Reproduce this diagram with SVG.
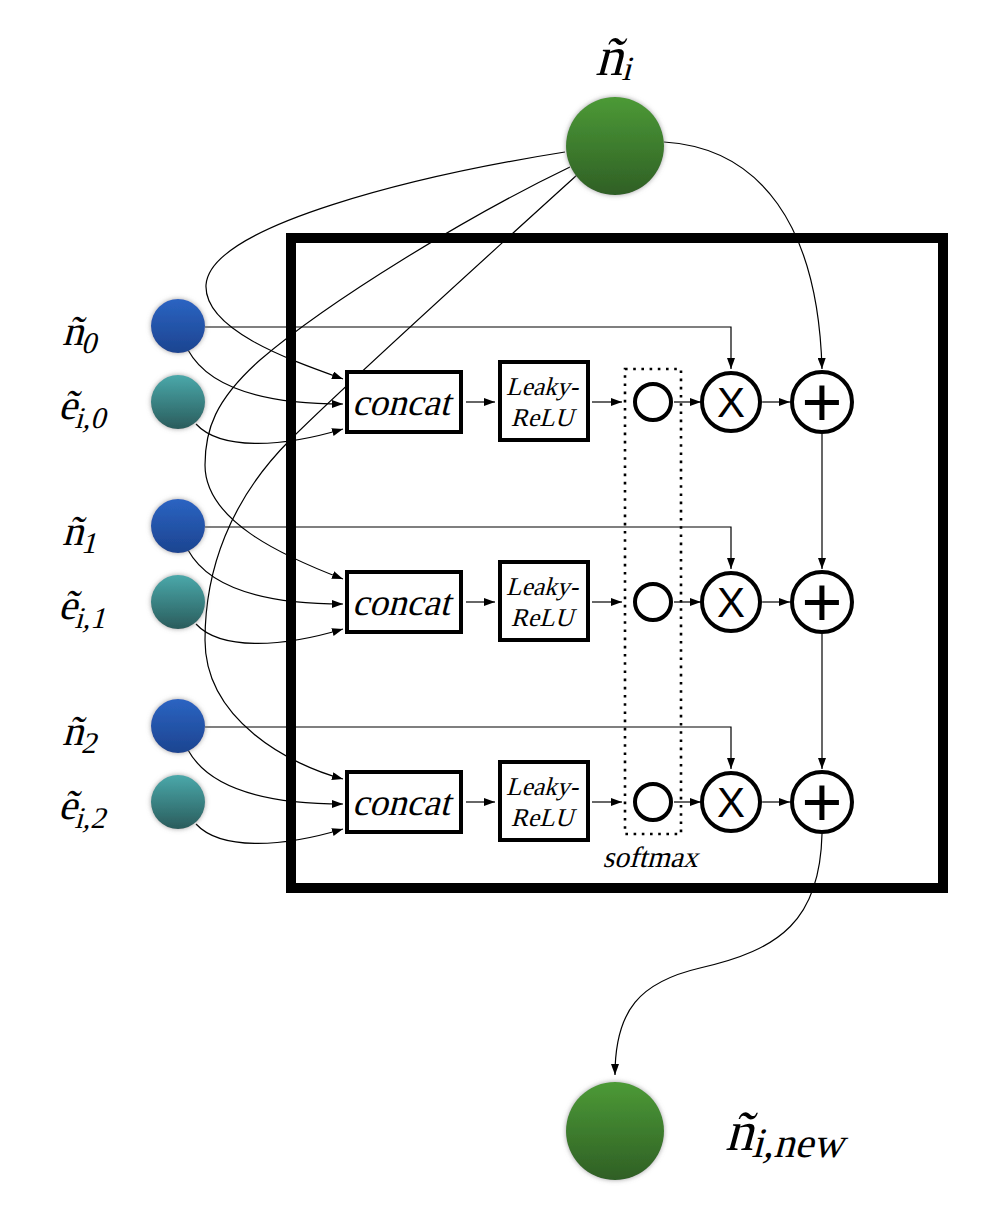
<svg xmlns="http://www.w3.org/2000/svg" width="1002" height="1222" viewBox="0 0 1002 1222">
<style>
.c{fill:none;stroke:#000;stroke-width:1.2}
.a{marker-end:url(#ah)}
.box{fill:#fff;stroke:#000;stroke-width:4}
.op{fill:#fff;stroke:#000;stroke-width:4}
</style>
<defs>
<marker id="ah" markerUnits="userSpaceOnUse" markerWidth="11" markerHeight="8" refX="11" refY="4" orient="auto">
<path d="M0,0 L11,4 L0,8 Z" fill="#000"/>
</marker>
<linearGradient id="gGreen" x1="0" y1="0" x2="0" y2="1">
<stop offset="0" stop-color="#4c9a36"/><stop offset="1" stop-color="#2f5f25"/>
</linearGradient>
<linearGradient id="gBlue" x1="0" y1="0" x2="0" y2="1">
<stop offset="0" stop-color="#2b64c2"/><stop offset="1" stop-color="#1c4490"/>
</linearGradient>
<linearGradient id="gTeal" x1="0" y1="0" x2="0" y2="1">
<stop offset="0" stop-color="#4aa8aa"/><stop offset="1" stop-color="#2a5c5c"/>
</linearGradient>
<filter id="glow" x="-30%" y="-30%" width="160%" height="160%">
<feGaussianBlur in="SourceAlpha" stdDeviation="2.5" result="b"/>
<feFlood flood-color="#888" flood-opacity="0.8"/>
<feComposite in2="b" operator="in" result="s"/>
<feMerge><feMergeNode in="s"/><feMergeNode in="SourceGraphic"/></feMerge>
</filter>
</defs>
<rect width="1002" height="1222" fill="#fff"/>

<g id="frame">
<rect x="291" y="238" width="652" height="650" fill="none" stroke="#000" stroke-width="10"/>
</g>

<g id="connectors">
<path class="c a" d="M565,152 C420,175 210,225 206,285 C204,330 290,360 343,379"/>
<path class="c a" d="M570,167 C470,215 330,300 260,360 C215,400 205,430 205,465 C205,520 280,555 343,579"/>
<path class="c a" d="M577,175 C450,290 330,400 290,440 C230,500 205,570 205,640 C205,720 290,765 343,779"/>

<path class="c a" d="M188,350 C210,390 270,404 343,404"/>
<path class="c a" d="M196,424 C220,450 280,448 343,429"/>
<path class="c a" d="M188,550 C210,590 270,604 343,604"/>
<path class="c a" d="M196,624 C220,650 280,648 343,629"/>
<path class="c a" d="M188,750 C210,790 270,804 343,804"/>
<path class="c a" d="M196,824 C220,850 280,848 343,829"/>

<path class="c a" d="M205,327 H731 V369"/>
<path class="c a" d="M205,527 H731 V569"/>
<path class="c a" d="M205,727 H731 V769"/>

<path class="c a" d="M466,402 H495"/>
<path class="c a" d="M592,402 H622"/>
<path class="c a" d="M674,402 H701"/>
<path class="c a" d="M762,402 H790"/>
<path class="c a" d="M466,602 H495"/>
<path class="c a" d="M592,602 H622"/>
<path class="c a" d="M674,602 H701"/>
<path class="c a" d="M762,602 H790"/>
<path class="c a" d="M466,802 H495"/>
<path class="c a" d="M592,802 H622"/>
<path class="c a" d="M674,802 H701"/>
<path class="c a" d="M762,802 H790"/>

<path class="c a" d="M664,142 C760,148 818,225 822,369"/>
<path class="c a" d="M822,434 V569"/>
<path class="c a" d="M822,634 V769"/>
<path class="c a" d="M822,834 C820,920 780,950 700,968 C640,982 615,1010 615,1075"/>
</g>

<g id="softmax">
<rect x="625" y="369" width="56" height="465" fill="none" stroke="#000" stroke-width="2.6" stroke-dasharray="2.6 5.6"/>
<text transform="translate(650,867) skewX(-15)" font-size="29.5" text-anchor="middle" font-family="Liberation Serif">softmax</text>
</g>

<g id="n_i">
<circle cx="615" cy="146" r="49" fill="url(#gGreen)" filter="url(#glow)"/>
<text transform="translate(595,75) skewX(-15)" font-size="55" font-family="Liberation Serif">ñ<tspan font-size="34" dy="5">i</tspan></text>
</g>
<g id="n_i_new">
<circle cx="615" cy="1131" r="49" fill="url(#gGreen)" filter="url(#glow)"/>
<text transform="translate(725,1150) skewX(-15)" font-size="56" font-family="Liberation Serif">ñ<tspan font-size="42" dy="7">i,new</tspan></text>
</g>

<g id="n_0">
<circle cx="178" cy="326" r="27" fill="url(#gBlue)" filter="url(#glow)"/>
<text transform="translate(62,345) skewX(-15)" font-size="42" font-family="Liberation Serif">ñ<tspan font-size="30" dy="8">0</tspan></text>
</g>
<g id="e_i0">
<circle cx="178" cy="402" r="27" fill="url(#gTeal)" filter="url(#glow)"/>
<text transform="translate(58,419) skewX(-15)" font-size="42" font-family="Liberation Serif">ẽ<tspan font-size="30" dy="9">i,0</tspan></text>
</g>
<g id="n_1">
<circle cx="178" cy="526" r="27" fill="url(#gBlue)" filter="url(#glow)"/>
<text transform="translate(62,545) skewX(-15)" font-size="42" font-family="Liberation Serif">ñ<tspan font-size="30" dy="8">1</tspan></text>
</g>
<g id="e_i1">
<circle cx="178" cy="602" r="27" fill="url(#gTeal)" filter="url(#glow)"/>
<text transform="translate(58,619) skewX(-15)" font-size="42" font-family="Liberation Serif">ẽ<tspan font-size="30" dy="9">i,1</tspan></text>
</g>
<g id="n_2">
<circle cx="178" cy="726" r="27" fill="url(#gBlue)" filter="url(#glow)"/>
<text transform="translate(62,745) skewX(-15)" font-size="42" font-family="Liberation Serif">ñ<tspan font-size="30" dy="8">2</tspan></text>
</g>
<g id="e_i2">
<circle cx="178" cy="802" r="27" fill="url(#gTeal)" filter="url(#glow)"/>
<text transform="translate(58,819) skewX(-15)" font-size="42" font-family="Liberation Serif">ẽ<tspan font-size="30" dy="9">i,2</tspan></text>
</g>

<g id="concat0"><rect class="box" x="347" y="372" width="114" height="60"/><text transform="translate(401,415) skewX(-15)" font-size="37.5" text-anchor="middle" font-family="Liberation Serif">concat</text></g>
<g id="concat1"><rect class="box" x="347" y="572" width="114" height="60"/><text transform="translate(401,615) skewX(-15)" font-size="37.5" text-anchor="middle" font-family="Liberation Serif">concat</text></g>
<g id="concat2"><rect class="box" x="347" y="772" width="114" height="60"/><text transform="translate(401,815) skewX(-15)" font-size="37.5" text-anchor="middle" font-family="Liberation Serif">concat</text></g>

<g id="leaky0"><rect class="box" x="500" y="362" width="88" height="78"/><text transform="translate(542,395) skewX(-15)" font-size="25.5" text-anchor="middle" font-family="Liberation Serif">Leaky-</text><text transform="translate(542,426) skewX(-15)" font-size="25.5" text-anchor="middle" font-family="Liberation Serif">ReLU</text></g>
<g id="leaky1"><rect class="box" x="500" y="562" width="88" height="78"/><text transform="translate(542,595) skewX(-15)" font-size="25.5" text-anchor="middle" font-family="Liberation Serif">Leaky-</text><text transform="translate(542,626) skewX(-15)" font-size="25.5" text-anchor="middle" font-family="Liberation Serif">ReLU</text></g>
<g id="leaky2"><rect class="box" x="500" y="762" width="88" height="78"/><text transform="translate(542,795) skewX(-15)" font-size="25.5" text-anchor="middle" font-family="Liberation Serif">Leaky-</text><text transform="translate(542,826) skewX(-15)" font-size="25.5" text-anchor="middle" font-family="Liberation Serif">ReLU</text></g>

<g id="sm0"><circle class="op" cx="653" cy="402" r="18"/></g>
<g id="sm1"><circle class="op" cx="653" cy="602" r="18"/></g>
<g id="sm2"><circle class="op" cx="653" cy="802" r="18"/></g>

<g id="mul0"><circle class="op" cx="731" cy="402" r="29"/><text x="731" y="417" font-size="42" text-anchor="middle" font-family="Liberation Sans">X</text></g>
<g id="mul1"><circle class="op" cx="731" cy="602" r="29"/><text x="731" y="617" font-size="42" text-anchor="middle" font-family="Liberation Sans">X</text></g>
<g id="mul2"><circle class="op" cx="731" cy="802" r="29"/><text x="731" y="817" font-size="42" text-anchor="middle" font-family="Liberation Sans">X</text></g>

<g id="add0"><circle class="op" cx="822" cy="402" r="30"/><text x="822" y="426" font-size="70" text-anchor="middle" font-family="Liberation Sans">+</text></g>
<g id="add1"><circle class="op" cx="822" cy="602" r="30"/><text x="822" y="626" font-size="70" text-anchor="middle" font-family="Liberation Sans">+</text></g>
<g id="add2"><circle class="op" cx="822" cy="802" r="30"/><text x="822" y="826" font-size="70" text-anchor="middle" font-family="Liberation Sans">+</text></g>
</svg>
